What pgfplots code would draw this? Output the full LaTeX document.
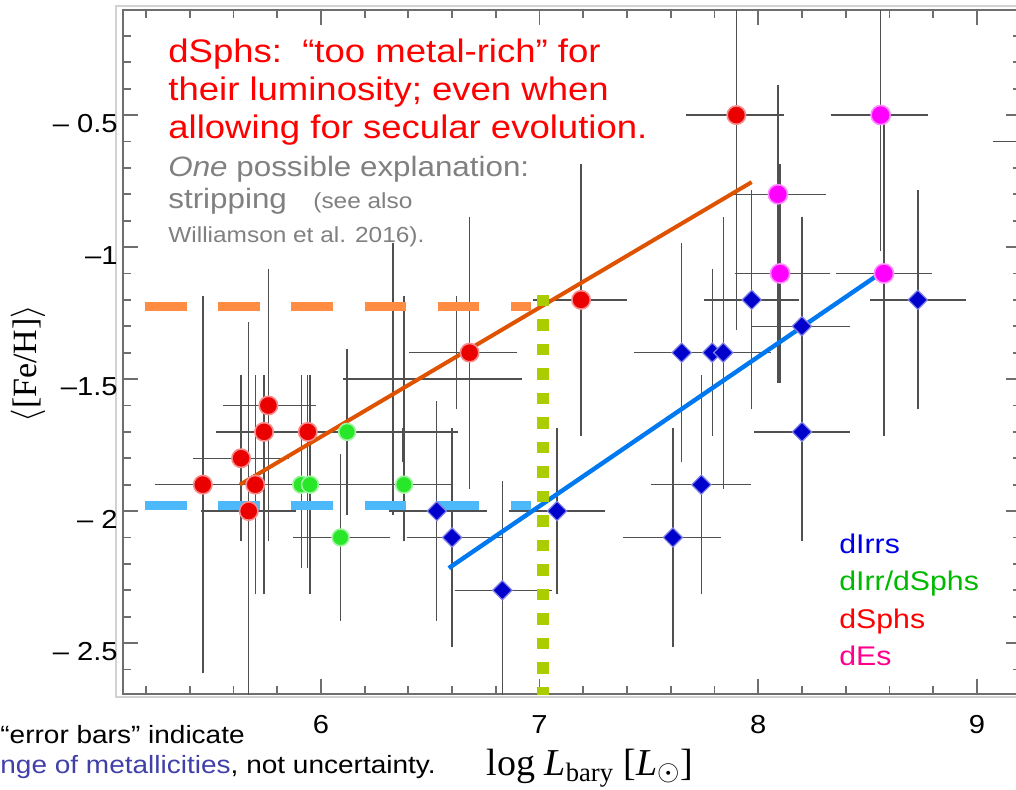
\documentclass[border=0pt]{standalone}
\usepackage{pgfplots}
\pgfplotsset{compat=1.18}
\usepackage{pgfplotstable}
\usepackage{fontspec}
\setmainfont{Liberation Sans}[FakeStretch=1.12]
\newfontfamily\tms{Liberation Serif}

\definecolor{dsph}{RGB}{235,0,0}
\definecolor{dirr}{RGB}{0,0,205}
\definecolor{trans}{RGB}{40,230,40}
\definecolor{de}{RGB}{255,0,255}
\definecolor{errc}{RGB}{80,80,80}
\definecolor{axc}{RGB}{110,110,110}
\definecolor{fitor}{RGB}{222,82,0}
\definecolor{fitbl}{RGB}{0,120,240}
\definecolor{dashor}{RGB}{255,140,66}
\definecolor{dashbl}{RGB}{77,184,250}
\definecolor{dotgr}{RGB}{170,205,0}
\definecolor{txtred}{RGB}{255,0,0}
\definecolor{txtgray}{RGB}{128,128,128}
\definecolor{lgblue}{RGB}{0,0,230}
\definecolor{lggreen}{RGB}{0,185,0}
\definecolor{lgpink}{RGB}{255,0,140}
\definecolor{noteblue}{RGB}{64,64,168}

\pgfplotstableread{
x y xm xp ym yp
5.46 -1.9 0.2 0.2 0.7 0.7
5.635 -1.8 0.2 0.2 0.3 0.3
5.74 -1.7 0.2 0.2 0.6 0.2
5.94 -1.7 0.2 0.2 0.5 0.2
5.76 -1.6 0.19 0.2 0.5 0.5
5.70 -1.9 0.2 0.2 0.4 0.4
5.67 -2.0 0.2 0.2 0.8 0.7
6.68 -1.4 0.26 0.2 0.5 0.5
7.19 -1.2 0.2 0.19 0.5 0.5
7.90 -0.5 0.21 0.2 0.8 0.5
}\tabDsph

\pgfplotstableread{
x y xm xp ym yp
8.56 -0.5 0.21 0.2 0.5 0.5
8.09 -0.8 0.2 0.2 0.7 0.4
8.10 -1.1 0.19 0.21 0.4 0.4
8.575 -1.1 0.2 0.2 0.6 0.6
}\tabDe

\pgfplotstableread{
x y xm xp ym yp
7.97 -1.2 0.2 0.2 0.4 0.4
8.20 -1.3 0.21 0.2 0.4 0.4
8.20 -1.7 0.2 0.2 0.4 0.4
8.73 -1.2 0.2 0.2 0.4 0.4
7.65 -1.4 0.2 0.2 0.4 0.4
7.79 -1.4 0.2 0.2 0.3 0.3
7.84 -1.4 0.2 0.2 0.5 0.5
7.74 -1.9 0.21 0.21 0.4 0.4
7.61 -2.1 0.21 0.2 0.4 0.4
7.08 -2.0 0.2 0.2 0.3 0.3
6.53 -2.0 0.2 0.21 0.4 0.4
6.60 -2.1 0.19 0.21 0.4 0.4
6.83 -2.3 0.2 0.21 0.5 0.4
}\tabDirr

\pgfplotstableread{
x y xm xp ym yp
6.12 -1.7 0.2 0.49 0.3 0.3
5.91 -1.9 0.19 0.2 0.3 0.4
5.95 -1.9 0.2 0.2 0.4 0.4
6.38 -1.9 0.2 0.2 0.2 0.7
6.09 -2.1 0.2 0.21 0.3 0.3
}\tabTrans

% ranges without a plotted symbol
\pgfplotstableread{
x y xm xp ym yp
6.33 -1.5 0.21 0.57 0.5 0.5
}\tabUa
\pgfplotstableread{
x y xm xp ym yp
6.62 -1.4 0 0 0.2 0.2
6.375 -1.75 0 0 0.05 0.05
}\tabUb
\pgfplotstableread{
x y xm xp ym yp
9.35 -0.6 0.26 0 0 0
}\tabUc

\pgfplotsset{
  errbars/.style={draw=none, mark=none, forget plot,
    error bars/x dir=both, error bars/x explicit,
    error bars/y dir=both, error bars/y explicit,
    error bars/error bar style={draw=errc, line width=0.7pt},
    error bars/error mark options={draw=errc, line width=0.7pt, mark size=2pt}},
}

\begin{document}
\begin{tikzpicture}
\path[use as bounding box] (0,0) rectangle (508pt,394.5pt);
\clip (0,0) rectangle (508pt,394.5pt);

\begin{scope}[yshift=394.5pt, x=0.5pt, y=-0.5pt]
\draw[gray!35, line width=0.6pt] (116,6) rectangle (1040,697);
\end{scope}

\begin{axis}[
  at={(61.5pt,47.5pt)}, anchor=south west, scale only axis,
  width=448.8pt, height=342pt,
  xmin=5.095, xmax=9.2, ymin=-2.693, ymax=-0.102,
  xtick={6,7,8,9}, xticklabels={6,7,8,9},
  ytick={-0.5,-1,-1.5,-2,-2.5}, yticklabels={– 0.5,–1,–1.5,– 2,– 2.5},
  minor xtick={5.2,5.4,5.6,5.8,6.2,6.4,6.6,6.8,7.2,7.4,7.6,7.8,8.2,8.4,8.6,8.8},
  minor ytick={-2.6,-2.4,-2.3,-2.2,-2.1,-1.9,-1.8,-1.7,-1.6,-1.4,-1.3,-1.2,-1.1,-0.9,-0.8,-0.7,-0.6,-0.4,-0.3,-0.2},
  tick align=inside, major tick length=7.5pt, minor tick length=4pt,
  axis line style={axc, line width=1.2pt},
  every tick/.append style={axc, line width=0.9pt},
  ticklabel style={font=\fontsize{13}{15}\selectfont},
  xticklabel style={inner sep=0pt, yshift=-10.5pt},
  yticklabel style={inner sep=0pt, xshift=-2.5pt, yshift=-4pt},
]
% error bars (ranges)
\addplot[errbars] table[x=x,y=y,x error minus=xm,x error plus=xp,y error minus=ym,y error plus=yp]{\tabDsph};
\addplot[errbars] table[x=x,y=y,x error minus=xm,x error plus=xp,y error minus=ym,y error plus=yp]{\tabDe};
\addplot[errbars] table[x=x,y=y,x error minus=xm,x error plus=xp,y error minus=ym,y error plus=yp]{\tabDirr};
\addplot[errbars] table[x=x,y=y,x error minus=xm,x error plus=xp,y error minus=ym,y error plus=yp]{\tabTrans};
\addplot[errbars] table[x=x,y=y,x error minus=xm,x error plus=xp,y error minus=ym,y error plus=yp]{\tabUa};
\addplot[errbars, error bars/x dir=none] table[x=x,y=y,x error minus=xm,x error plus=xp,y error minus=ym,y error plus=yp]{\tabUb};
\addplot[errbars, error bars/y dir=none] table[x=x,y=y,x error minus=xm,x error plus=xp,y error minus=ym,y error plus=yp]{\tabUc};

% markers
\addplot[only marks, mark=*, mark size=4.2pt, mark options={fill=trans, draw=trans!45, line width=0.8pt}] table[x=x,y=y]{\tabTrans};
\addplot[only marks, mark=*, mark size=4.6pt, mark options={fill=dsph, draw=dsph!45, line width=0.8pt}] table[x=x,y=y]{\tabDsph};
\addplot[only marks, mark=*, mark size=4.8pt, mark options={fill=de, draw=de!45, line width=0.8pt}] table[x=x,y=y]{\tabDe};
\addplot[only marks, mark=square*, mark size=3.4pt, mark options={rotate=45, fill=dirr, draw=dirr!50, line width=0.6pt}] table[x=x,y=y]{\tabDirr};

% fits
\addplot[fitor, line width=2pt] coordinates {(5.63,-1.90) (7.97,-0.754)};
\addplot[fitbl, line width=2.2pt] coordinates {(6.585,-2.216) (8.54,-1.11)};
% reference levels
\addplot[dashor, line width=4.5pt, dash pattern=on 20.8pt off 15.8pt] coordinates {(5.196,-1.227) (6.963,-1.227)};
\addplot[dashbl, line width=4.5pt, dash pattern=on 20.8pt off 15.8pt] coordinates {(5.196,-1.98) (6.963,-1.98)};
\addplot[dotgr, line width=6pt, dash pattern=on 5.85pt off 6.4pt] coordinates {(7.014,-1.18) (7.014,-2.75)};
\end{axis}

\begin{scope}[yshift=394.5pt, x=0.5pt, y=-0.5pt]
\tikzset{every node/.style={inner sep=0pt, anchor=base west}}
\node[text=txtred, font=\fontsize{16.3}{18}\selectfont] at (168,63) {dSphs:\ \ “too metal-rich” for};
\node[text=txtred, font=\fontsize{16.3}{18}\selectfont] at (168,100) {their luminosity; even when};
\node[text=txtred, font=\fontsize{16.3}{18}\selectfont] at (168,138) {allowing for secular evolution.};
\node[text=txtgray, font=\fontsize{14}{16}\selectfont] at (168,176) {\textit{One} possible explanation:};
\node[text=txtgray, font=\fontsize{14}{16}\selectfont] at (168,208) {stripping};
\node[text=txtgray, font=\fontsize{10.9}{13}\selectfont] at (313,208) {(see also};
\node[text=txtgray, font=\fontsize{10.9}{13}\selectfont] at (168,242) {Williamson et al. 2016).};

\node[text=lgblue, font=\fontsize{13.5}{15}\selectfont] at (839,553) {dIrrs};
\node[text=lggreen, font=\fontsize{13.5}{15}\selectfont] at (839,590) {dIrr/dSphs};
\node[text=txtred, font=\fontsize{13.5}{15}\selectfont] at (839,628) {dSphs};
\node[text=lgpink, font=\fontsize{13.5}{15}\selectfont] at (839,665) {dEs};

\node[font=\fontsize{12.5}{14}\selectfont] at (0,743) {“error bars” indicate};
\node[font=\fontsize{12.5}{14}\selectfont] at (0,773) {\textcolor{noteblue}{nge of metallicities}, not uncertainty.};

\node[anchor=base, font=\fontsize{19}{21}\selectfont] at (590,775) {\tms log \textit{L}\textsubscript{bary} [\textit{L}$_\odot$]};
\node[anchor=center, rotate=90, font=\fontsize{17}{19}\selectfont] at (28,363.5) {\tms $\langle$[Fe/H]$\rangle$};
\end{scope}
\end{tikzpicture}
\end{document}
